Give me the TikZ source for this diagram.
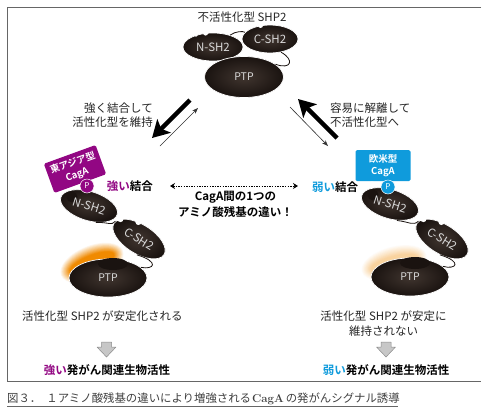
\documentclass[tikz,border=0pt]{standalone}
\usepackage{fontspec}
\usetikzlibrary{shapes.geometric,arrows.meta}
\newfontfamily\jp[BoldFont={Noto Sans CJK JP Bold}]{Noto Sans CJK JP}
\definecolor{domaindark}{HTML}{1A1310}
\definecolor{domainmid}{HTML}{40352F}
\definecolor{eastpurple}{HTML}{920783}
\definecolor{westblue}{HTML}{0F9BDC}
\definecolor{glow}{HTML}{F08A00}
\definecolor{rulegray}{HTML}{666666}
\tikzset{
  x=1pt,y=-1pt,
  blob/.style={ellipse,inner sep=0pt,draw=white,line width=0.7pt,inner color=domainmid,outer color=domaindark,
    text=white!85!black,font=\jp\fontsize{11.5}{11}\selectfont},
  sh/.style={blob,minimum width=59pt,minimum height=29pt},
  ptp/.style={blob,minimum width=78pt,minimum height=38pt,font=\jp\fontsize{10.5}{11}\selectfont},
  blobtext/.style={inner sep=0pt,text=white!85!black,font=\jp\fontsize{11.5}{11}\selectfont},
  linker/.style={draw=domaindark,line width=0.8pt},
  lbl/.style={inner sep=0pt,text=black!85,font=\jp\fontsize{11.5}{14.5}\selectfont},
  blbl/.style={inner sep=0pt,text=black,font=\jp\bfseries\fontsize{11.5}{16}\selectfont},
  tagbox/.style={rectangle,rounded corners=1.5pt,inner sep=0pt,text=white,align=center,
    minimum width=55pt,minimum height=31pt,font=\jp\bfseries\fontsize{9.5}{12.5}\selectfont},
  phospho/.style={circle,draw=white,line width=0.5pt,inner sep=0pt,minimum size=14pt,text=white,font=\jp\fontsize{8}{8}\selectfont},
  thickarrow/.style={line width=4.5pt,draw=black,-{Stealth[length=17pt,width=19pt,inset=4pt]}},
  thinarrow/.style={line width=0.6pt,draw=black!80,-{Stealth[length=6pt,width=4.5pt]}},
  hintarrow/.style={fill=black!22,draw=black!45,line width=0.5pt,line join=round},
  pics/hint/.style={code={
    \path[hintarrow] (-5,-7.5) -- (5,-7.5) -- (5,-2.5) -- (9.5,-2.5) -- (0,7.5) -- (-9.5,-2.5) -- (-5,-2.5) -- cycle;}}
}
\begin{document}
\begin{tikzpicture}
\useasboundingbox (0,0) rectangle (490,408);
\fill[white] (0,0) rectangle (490,408);

% outer frame, open on the right
\draw[rulegray,line width=0.9pt] (481,7) -- (7,7) -- (7,381) -- (481,381);

% inactive SHP2
\node[lbl] (toptitle) at (242,17) {不活性化型 SHP2};
\node[sh,minimum width=60pt,minimum height=28pt] (topN) at (213,47) {N-SH2};
\node[sh,minimum width=56pt,minimum height=28pt] (topC) at (270,39) {C-SH2};
\fill[white] (topN.118) circle (2.5) (topN.145) circle (1.8) (topC.125) circle (2.5);
\node[ptp,minimum width=79pt,minimum height=41pt] (topP) at (244,77) {PTP};
\draw[linker] (topN.35) .. controls (236,31) and (243,31) .. (topC.165);
\draw[linker] (topC.-50) .. controls (295,60) and (291,70) .. (topP.22);

% transition arrows
\coordinate (dl1) at (190,100); \coordinate (dl2) at (152,138);
\coordinate (tl1) at (160,146); \coordinate (tl2) at (198,108);
\coordinate (dr1) at (337,138); \coordinate (dr2) at (298,99);
\coordinate (tr1) at (290,107); \coordinate (tr2) at (328,146);
\draw[thickarrow] (dl1) -- (dl2);
\draw[thinarrow] (tl1) -- (tl2);
\draw[thickarrow] (dr1) -- (dr2);
\draw[thinarrow] (tr1) -- (tr2);
\node[lbl,align=right,anchor=east] (leftnote) at (153,115) {強く結合して\\活性化型を維持};
\node[lbl,align=left,anchor=west] (rightnote) at (330,115) {容易に解離して\\不活性化型へ};

% East Asian CagA complex
\foreach \i in {0,...,15}{
  \pgfmathsetmacro{\p}{min(100,\i*8)}
  \fill[glow!\p!white,rotate around={22:(92,263)}] (92,263) ellipse ({34-\i*0.8} and {18-\i*0.8});
}
\node[tagbox,fill=eastpurple,rotate=20] (eastbox) at (75,169) {東アジア型\\CagA};
\fill[white] (71,195) circle (6.5);
\node[sh,rotate=-17] (eastN) at (89,206) {};
\fill[domaindark] (72,197) circle (5.5);
\node[blobtext,rotate=-17] (eastNtext) at (eastN) {N-SH2};
\node[phospho,fill=eastpurple] (eastP) at (87,186) {P};
\node[sh,rotate=-32] (eastC) at (139,239) {C-SH2};
\fill[white] (eastC.165) circle (3) (eastC.124) circle (3);
\node[ptp] (eastPTP) at (108,278) {};
\fill[domaindark] (113,264) ellipse (15 and 6);
\node[blobtext,font=\jp\fontsize{10.5}{11}\selectfont] (eastPTPtext) at (eastPTP) {PTP};
\draw[linker] (eastN.-50) .. controls (109,222) and (111,226) .. (eastC.175);
\draw[linker] (eastC.-65) .. controls (160,262) and (154,270) .. (eastPTP.18);

% Western CagA complex
\foreach \i in {0,...,15}{
  \pgfmathsetmacro{\p}{min(38,\i*3)}
  \fill[glow!\p!white,rotate around={15:(394,263)}] (394,263) ellipse ({34-\i*0.8} and {17-\i*0.8});
}
\node[tagbox,fill=westblue] (westbox) at (383,165.5) {欧米型\\CagA};
\fill[white] (372,188) circle (6.5);
\node[sh,rotate=-17] (westN) at (390,204) {};
\fill[domaindark] (373,195) circle (5.5);
\node[blobtext,rotate=-17] (westNtext) at (westN) {N-SH2};
\node[phospho,fill=westblue] (westP) at (388,187) {P};
\node[sh,rotate=-32] (westC) at (442,239) {C-SH2};
\fill[white] (westC.165) circle (3) (westC.124) circle (3);
\node[ptp] (westPTP) at (410,277) {};
\fill[domaindark] (415,263) ellipse (15 and 6);
\node[blobtext,font=\jp\fontsize{10.5}{11}\selectfont] (westPTPtext) at (westPTP) {PTP};
\draw[linker] (westN.-50) .. controls (410,222) and (413,226) .. (westC.175);
\draw[linker] (westC.-65) .. controls (463,262) and (456,270) .. (westPTP.18);

% binding strength and the difference between the two forms
\node[blbl,anchor=east] (strongbind) at (153,186) {{\color{eastpurple}強い}結合};
\node[blbl,anchor=west] (weakbind) at (312,187) {{\color{westblue}弱い}結合};
\coordinate (da) at (170,186); \coordinate (db) at (298,186);
\draw[line width=1pt,dash pattern=on 1.4pt off 1.2pt,{Stealth[length=5pt,width=6pt]}-{Stealth[length=5pt,width=6pt]}] (da) -- (db);
\node[blbl,align=center] (diff) at (235.5,204) {CagA間の1つの\\アミノ酸残基の違い！};

% outcomes
\node[lbl,anchor=west] (stableL) at (22,316) {活性化型 SHP2 が安定化される};
\node[lbl,align=center] (stableR) at (383.5,323.5) {活性化型 SHP2 が安定に\\維持されない};
\pic at (106.5,349.5) {hint};
\pic at (386,349.5) {hint};
\node[blbl] (bioL) at (107,370) {{\color{eastpurple}強い}発がん関連生物活性};
\node[blbl] (bioR) at (386,370) {{\color{westblue}弱い}発がん関連生物活性};

% caption
\node[inner sep=0pt,anchor=west,text=black!75,font=\jp\fontsize{11.4}{12}\selectfont] (caption) at (7,399)
  {図３．\hspace{5pt}１アミノ酸残基の違いにより増強される\hspace{1pt}{\normalfont\bfseries CagA}\hspace{2pt}の発がんシグナル誘導};
\draw[black!60,line width=0.6pt] (7,406) -- (398,406);
\end{tikzpicture}
\end{document}
